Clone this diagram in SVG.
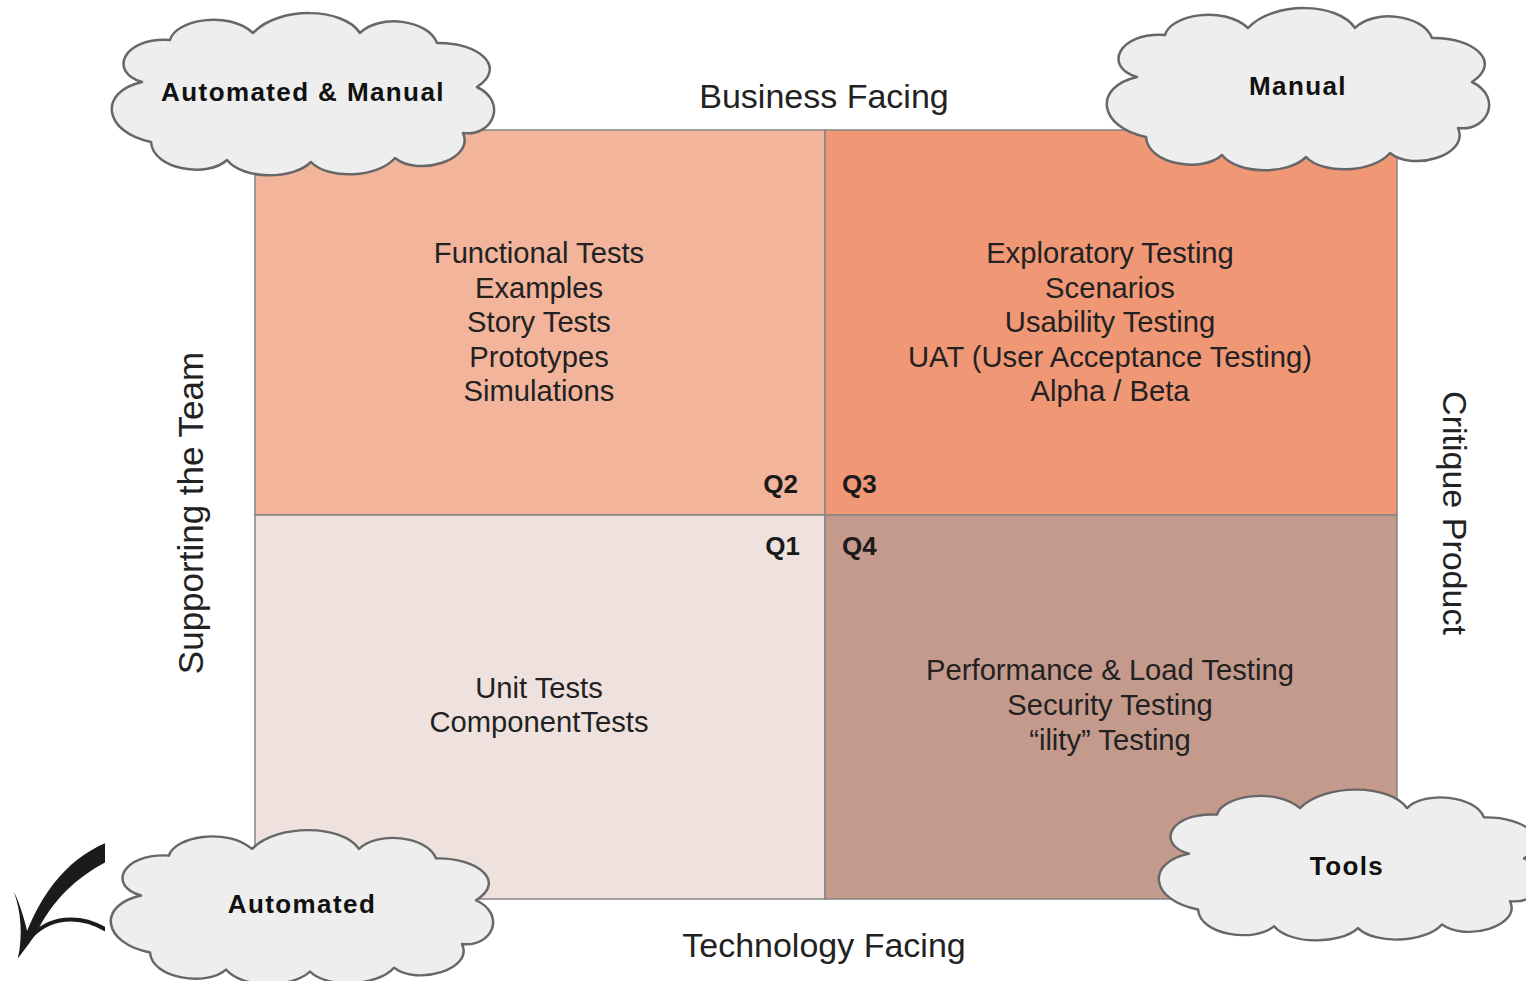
<svg xmlns="http://www.w3.org/2000/svg" xmlns:xlink="http://www.w3.org/1999/xlink" width="1526" height="981" viewBox="0 0 1526 981">
<style>
.q{stroke:#858585;stroke-width:1.5}
.t{font-family:"Liberation Sans",Arial,sans-serif;font-size:29.2px;fill:#222;text-anchor:middle}
.ax{font-family:"Liberation Sans",Arial,sans-serif;font-size:34px;fill:#222;text-anchor:middle}
.ql{font-family:"Liberation Sans",Arial,sans-serif;font-size:26px;font-weight:bold;fill:#1a1a1a}
.ct{font-family:"Liberation Sans",Arial,sans-serif;font-size:26px;font-weight:bold;fill:#111;text-anchor:middle;letter-spacing:1.4px}
.cloud{fill:#EEEEEE;stroke:#676767;stroke-width:2.5;stroke-linejoin:round}
</style>
<defs>
<path id="cloudShape" d="M -161,-10 C -195,-20 -180,-55 -133,-52 C -128,-72 -75,-82 -50,-59 C -25,-86 40,-85 57,-59 C 75,-78 125,-73 134,-49 C 175,-50 205,-25 174,-5 C 205,10 190,45 160,41 C 172,68 115,85 92,66 C 75,86 25,88 8,70 C -10,88 -60,88 -76,68 C -95,86 -150,78 -152,50 C -200,40 -205,0 -161,-10 Z"/>
<clipPath id="arrowClip"><rect x="0" y="830" width="105" height="150"/></clipPath>
</defs>
<rect width="1526" height="981" fill="#FFFFFF"/>

<g id="q2"><rect class="q" x="255" y="130" width="570" height="385" fill="#F2B49B"/>
<text class="t" x="539" y="263">Functional Tests</text>
<text class="t" x="539" y="298">Examples</text>
<text class="t" x="539" y="332">Story Tests</text>
<text class="t" x="539" y="367">Prototypes</text>
<text class="t" x="539" y="401">Simulations</text>
<text class="ql" x="798" y="493" text-anchor="end">Q2</text></g>

<g id="q3"><rect class="q" x="825" y="130" width="572" height="385" fill="#F09775"/>
<text class="t" x="1110" y="263">Exploratory Testing</text>
<text class="t" x="1110" y="298">Scenarios</text>
<text class="t" x="1110" y="332">Usability Testing</text>
<text class="t" x="1110" y="367">UAT (User Acceptance Testing)</text>
<text class="t" x="1110" y="401">Alpha / Beta</text>
<text class="ql" x="842" y="493">Q3</text></g>

<g id="q1"><rect class="q" x="255" y="515" width="570" height="384" fill="#EFE2DE"/>
<text class="t" x="539" y="698">Unit Tests</text>
<text class="t" x="539" y="732">ComponentTests</text>
<text class="ql" x="800" y="555" text-anchor="end">Q1</text></g>

<g id="q4"><rect class="q" x="825" y="515" width="572" height="384" fill="#C49A8C"/>
<text class="t" x="1110" y="680">Performance &amp; Load Testing</text>
<text class="t" x="1110" y="715">Security Testing</text>
<text class="t" x="1110" y="750">“ility” Testing</text>
<text class="ql" x="842" y="555">Q4</text></g>

<g id="axis-labels">
<text class="ax" x="824" y="108">Business Facing</text>
<text class="ax" x="824" y="957">Technology Facing</text>
<text class="ax" style="font-size:35px" transform="translate(203,513) rotate(-90)">Supporting the Team</text>
<text class="ax" transform="translate(1443,513) rotate(90)">Critique Product</text>
</g>

<g id="cloud-automated-manual"><use xlink:href="#cloudShape" href="#cloudShape" class="cloud" transform="translate(303,92)"/>
<text class="ct" x="303" y="101">Automated &amp; Manual</text></g>

<g id="cloud-manual"><use xlink:href="#cloudShape" href="#cloudShape" class="cloud" transform="translate(1298,87)"/>
<text class="ct" x="1298" y="95">Manual</text></g>

<g id="cloud-automated"><use xlink:href="#cloudShape" href="#cloudShape" class="cloud" transform="translate(302,905) scale(1,0.95)"/>
<text class="ct" x="302" y="913">Automated</text></g>

<g id="cloud-tools"><use xlink:href="#cloudShape" href="#cloudShape" class="cloud" transform="translate(1350,863) scale(1,0.93)"/>
<text class="ct" x="1347" y="875">Tools</text></g>

<g id="arrow" clip-path="url(#arrowClip)">
<path d="M 108,842 C 68,858 36,895 18,958 L 36,934 C 52,900 78,876 108,861 Z" fill="#1c1a1a"/>
<path d="M 14,892 C 21,912 23,935 18,958 L 30,942 C 25,922 21,906 14,892 Z" fill="#1c1a1a"/>
<path d="M 28,940 C 48,916 80,913 108,931" fill="none" stroke="#1c1a1a" stroke-width="4"/>
</g>
</svg>
